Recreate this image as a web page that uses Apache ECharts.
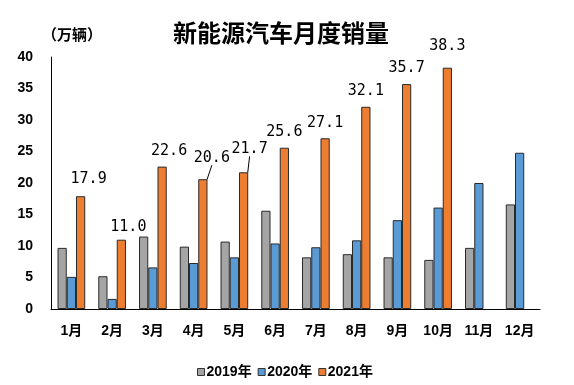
<!DOCTYPE html>
<html><head><meta charset="utf-8">
<script src="https://cdn.jsdelivr.net/npm/echarts@6/dist/echarts.min.js"></script>
<style>html,body{margin:0;padding:0;background:#fff}#c{width:574px;height:385px}</style>
</head><body><div id="c"></div>
<script>
const categories = ['1月','2月','3月','4月','5月','6月','7月','8月','9月','10月','11月','12月'];
const seriesNames = ['2019年','2020年','2021年'];
const sales2019 = [9.7, 5.2, 11.5, 9.9, 10.7, 15.6, 8.2, 8.7, 8.2, 7.8, 9.7, 16.6];
const sales2020 = [5.1, 1.6, 6.6, 7.3, 8.2, 10.4, 9.8, 10.9, 14.1, 16.1, 20.0, 24.8];
const sales2021 = [17.9, 11.0, 22.6, 20.6, 21.7, 25.6, 27.1, 32.1, 35.7, 38.3, null, null];
const yTicks = [0, 5, 10, 15, 20, 25, 30, 35, 40];

// label displacement (style, not data)
const labelShift = {0:[8,-2],1:[7,3],2:[7,0],3:[9,-6],4:[6,-8],9:[0,-6]};
const leaderIdx = [3,4];

const colors = ['#A5A5A5','#5B9BD5','#ED7D31'];
const latin = 'Liberation Sans, Noto Sans CJK SC, sans-serif';
const cjk = 'Noto Sans CJK SC, sans-serif';

const chart = echarts.init(document.getElementById('c'), null, {renderer:'canvas'});
const border = {borderColor:'#2a2a2a', borderWidth:1};

const orangeData = sales2021.map((v,i)=> leaderIdx.includes(i)
  ? {value:v, labelLine:{show:true, lineStyle:{color:'#000', width:1}}}
  : v);

chart.setOption({
  animation:false,
  backgroundColor:'#fff',
  title:{
    text:'新能源汽车月度销量', left:168, top:16,
    textStyle:{fontFamily:cjk, fontSize:24, fontWeight:'bold', color:'#000'}
  },
  graphic:[{type:'text', left:42, top:27,
    style:{text:'（万辆）', font:'bold 15px Noto Sans CJK SC', fill:'#000'}}],
  legend:{
    data:seriesNames, left:192, top:360, itemGap:6,
    icon:'rect', itemWidth:7, itemHeight:7,
    itemStyle:{borderColor:'#333', borderWidth:1},
    textStyle:{fontFamily:latin, fontSize:14, fontWeight:'bold', color:'#000', padding:[0,0,0,-3]}
  },
  grid:{left:51, right:34, top:57, bottom:76, containLabel:false},
  xAxis:{
    type:'category', data:categories,
    axisLine:{lineStyle:{color:'#000', width:1}},
    axisTick:{show:false},
    axisLabel:{fontFamily:latin, fontSize:14, fontWeight:'bold', color:'#000', margin:15}
  },
  yAxis:{
    type:'value', min:yTicks[0], max:yTicks[yTicks.length-1], interval:5,
    axisLine:{show:true, lineStyle:{color:'#000', width:1}},
    axisTick:{show:false},
    splitLine:{show:false},
    axisLabel:{fontFamily:latin, fontSize:14, fontWeight:'bold', color:'#000', margin:18}
  },
  series:[
    {name:seriesNames[0], type:'bar', data:sales2019, barGap:'0%', barCategoryGap:'32%',
     itemStyle:Object.assign({color:colors[0]}, border)},
    {name:seriesNames[1], type:'bar', data:sales2020, barGap:'0%', barCategoryGap:'32%',
     itemStyle:Object.assign({color:colors[1]}, border)},
    {name:seriesNames[2], type:'bar', data:orangeData, barGap:'0%', barCategoryGap:'32%',
     itemStyle:Object.assign({color:colors[2]}, border),
     label:{show:true, position:'top', distance:8,
       fontFamily:'DejaVu Sans Mono, monospace', fontSize:15, color:'#000',
       formatter:p=>p.value==null?'':Number(p.value).toFixed(1)},
     labelLayout:function(p){
       const s = labelShift[p.dataIndex];
       return s ? {dx:s[0], dy:s[1]} : {};
     }
    }
  ]
});
</script></body></html>
